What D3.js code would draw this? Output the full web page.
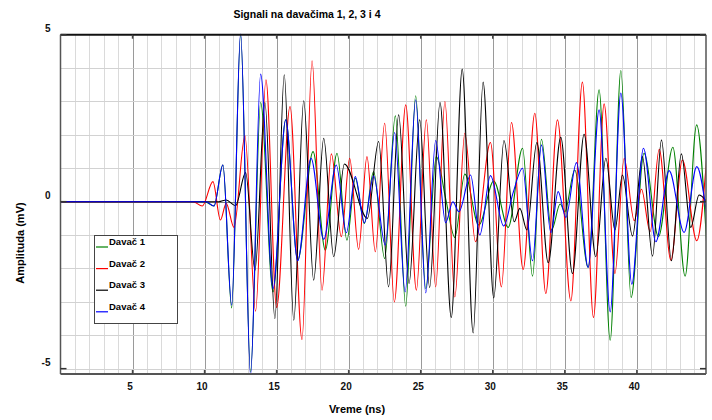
<!DOCTYPE html>
<html>
<head>
<meta charset="utf-8">
<script src="https://cdn.jsdelivr.net/npm/d3@7"></script>
<style>
  body { margin: 0; background: #fff; }
  text { font-family: "Liberation Sans Narrow", "Arial Narrow", "Liberation Sans", Arial, sans-serif; font-weight: bold; }
</style>
</head>
<body>
<svg id="chart" width="712" height="420"></svg>
<script>
// extrema: [vreme (ns), amplituda (mV)]
var davac1 = [[0,0],[10.0,0],[10.65,-0.13],[11.27,1.1],[11.88,-3.18],[12.5,5.0],[13.19,-5.1],[13.89,2.97],
  [14.75,-2.7],[15.63,2.45],[16.46,-1.75],[17.53,1.5],[18.38,-1.45],[19.19,1.45],[19.88,-1.15],[20.46,0.7],
  [21.09,-0.65],[21.73,0.9],[22.5,-1.7],[23.24,2.57],[23.96,-3.13],[24.65,3.17],[25.35,-2.6],[26.08,1.35],
  [26.75,0.05],[27.37,-1.07],[28.06,0.83],[29.03,-0.7],[30.07,0.62],[31.07,-0.77],[32.07,1.6],[32.76,-2.23],
  [33.38,1.87],[34.08,-0.85],[34.68,-0.07],[35.0,-0.3],[35.69,0.95],[36.62,-1.97],[37.38,3.35],[38.15,-4.15],
  [38.89,3.93],[39.6,-2.87],[40.5,1.45],[41.5,-1.05],[42.5,1.63],[43.35,-2.23],[44.15,2.3],[44.85,-1.3]];

var davac2 = [[0,0],[9.2,0],[9.84,-0.13],[10.58,0.6],[11.1,-0.55],[11.5,-0.05],[12.04,-0.77],[12.8,1.97],
  [13.54,-3.28],[14.26,3.65],[15.0,-3.17],[15.93,2.85],[16.76,-4.13],[17.46,4.22],[18.15,-2.65],[18.8,1.43],
  [19.49,-1.05],[20.07,1.3],[20.69,-1.43],[21.27,1.35],[21.85,-1.5],[22.5,2.35],[23.17,-3.0],[23.96,2.9],
  [24.7,-2.65],[25.39,2.45],[26.04,-2.55],[26.68,3.0],[27.37,-2.85],[28.06,2.05],[28.8,-1.2],[29.84,1.77],
  [30.6,-2.55],[31.3,2.37],[32.11,-2.03],[32.92,2.65],[33.68,-2.75],[34.49,2.45],[35.42,-2.97],[36.22,3.58],
  [36.99,-3.47],[37.73,2.93],[38.48,-2.15],[39.12,1.3],[39.82,-0.57],[40.32,0.37],[40.92,-0.9],[41.55,1.57],
  [42.36,-1.75],[43.16,1.25],[44.16,-1.17],[44.85,1.3]];

var davac3 = [[0,0],[11.0,0],[11.5,0.05],[12.15,-0.12],[12.85,0.87],[13.5,-2.05],[14.19,2.97],[14.88,-3.5],
  [15.53,3.8],[16.19,-3.55],[16.88,3.02],[17.57,-2.35],[18.27,1.9],[18.96,-1.65],[19.7,1.13],[21.3,-0.5],
  [22.08,1.8],[22.77,-2.55],[23.47,2.6],[24.19,-2.45],[24.93,2.45],[25.62,-2.57],[26.34,2.97],[27.12,-3.47],
  [27.88,3.97],[28.64,-3.93],[29.33,3.58],[30.07,-2.88],[30.78,1.83],[31.49,-0.6],[31.88,-0.2],[32.37,-0.85],
  [33.06,1.77],[33.85,-1.83],[34.72,1.93],[35.53,-2.15],[36.34,2.02],[37.15,-1.65],[37.85,1.3],[38.48,-0.85],
  [39.0,0.8],[39.7,-1.03],[40.39,1.35],[41.09,-1.63],[41.71,1.85],[42.4,-1.77],[43.09,1.43],[43.74,-0.77],
  [44.32,0.2],[44.85,0.0]];

var davac4 = [[0,0],[10.1,0],[10.65,-0.13],[11.27,1.1],[11.88,-3.1],[12.5,5.05],[13.19,-5.2],[13.89,3.82],
  [14.75,-2.6],[15.63,2.45],[16.46,-1.77],[17.39,1.3],[18.27,-1.13],[19.14,1.1],[19.84,-0.93],[20.46,0.75],
  [21.09,-0.63],[21.73,0.77],[22.54,-1.3],[23.19,2.07],[23.92,-2.7],[24.65,3.05],[25.35,-2.73],[26.04,1.83],
  [26.73,-0.63],[27.23,0.0],[27.65,-0.3],[28.46,0.8],[29.1,-1.0],[29.84,0.78],[30.76,-0.73],[31.4,0.25],
  [32.07,1.0],[32.76,-1.77],[33.38,1.7],[34.03,-0.93],[34.54,0.3],[35.07,-0.47],[35.81,1.17],[36.62,-1.97],
  [37.38,2.75],[38.15,-3.3],[38.89,3.25],[39.65,-2.47],[40.46,1.6],[41.32,-1.2],[42.24,0.93],[43.28,-0.92],
  [44.16,1.05],[44.85,-0.4]];

var seriesNames = ["Davač 1", "Davač 2", "Davač 3", "Davač 4"];
var seriesColors = ["#008000", "#ff0000", "#000000", "#0000ff"];
var xTicks = [5, 10, 15, 20, 25, 30, 35, 40];
var yTicks = [-5, 0, 5];

var svg = d3.select("#chart");

var x = d3.scaleLinear().domain([0, 44.8]).range([60.5, 706]);
var y = d3.scaleLinear().domain([-5.16, 5]).range([374, 34.7]);

var pLeft = x.range()[0], pRight = x.range()[1], pTop = y.range()[1], pBottom = y.range()[0];

// grid
var grid = svg.append("g");
grid.selectAll(".vx").data(d3.range(1, 45)).enter().append("line")
  .attr("x1", d => Math.round(x(d)) + 0.5).attr("x2", d => Math.round(x(d)) + 0.5)
  .attr("y1", pTop).attr("y2", pBottom)
  .attr("stroke", d => d % 5 === 0 ? "#9a9a9a" : "#dadada").attr("stroke-width", 1);
grid.selectAll(".hy").data(d3.range(-5, 5)).enter().append("line")
  .attr("x1", pLeft).attr("x2", pRight)
  .attr("y1", d => Math.round(y(d)) + 0.5).attr("y2", d => Math.round(y(d)) + 0.5)
  .attr("stroke", d => d === 0 ? "#7a7a7a" : "#d2d2d2").attr("stroke-width", 1);

// curves
svg.append("clipPath").attr("id", "clip").append("rect")
  .attr("x", pLeft).attr("y", pTop - 1).attr("width", pRight - pLeft).attr("height", pBottom - pTop + 2);

var line = d3.line().x(d => x(d[0])).y(d => y(d[1])).curve(d3.curveMonotoneX);

var allSeries = [davac1, davac2, davac3, davac4];
svg.append("g").attr("clip-path", "url(#clip)")
  .selectAll("path").data(allSeries).enter().append("path")
  .attr("d", line).attr("fill", "none")
  .attr("stroke", (d, i) => seriesColors[i]).attr("stroke-width", 1.1);

// frame
svg.append("line").attr("x1", pLeft).attr("x2", pRight).attr("y1", pTop).attr("y2", pTop)
  .attr("stroke", "#111").attr("stroke-width", 2);
svg.append("line").attr("x1", pLeft).attr("x2", pRight).attr("y1", pBottom).attr("y2", pBottom)
  .attr("stroke", "#555").attr("stroke-width", 2);
svg.append("line").attr("x1", pLeft).attr("x2", pLeft).attr("y1", pTop).attr("y2", pBottom)
  .attr("stroke", "#555").attr("stroke-width", 1.5);
svg.append("line").attr("x1", pRight).attr("x2", pRight).attr("y1", pTop).attr("y2", pBottom)
  .attr("stroke", "#555").attr("stroke-width", 1.5);

// ticks
var xAxis = d3.axisBottom(x).tickValues(xTicks).tickSize(0).tickPadding(9).tickFormat(d => String(d));
var gx = svg.append("g").attr("transform", "translate(-3," + pBottom + ")").call(xAxis);
gx.select(".domain").remove();
gx.selectAll("text").attr("font-size", 10).attr("fill", "#111");

svg.append("g").selectAll("line").data(xTicks).enter().append("line")
  .attr("x1", d => x(d)).attr("x2", d => x(d)).attr("y1", pBottom - 4).attr("y2", pBottom)
  .attr("stroke", "#444").attr("stroke-width", 1.5);
svg.append("g").selectAll("line").data(xTicks).enter().append("line")
  .attr("x1", d => x(d)).attr("x2", d => x(d)).attr("y1", pTop).attr("y2", pTop + 4)
  .attr("stroke", "#444").attr("stroke-width", 1.5);

var yAxis = d3.axisLeft(y).tickValues(yTicks).tickSize(0).tickPadding(10).tickFormat(d => String(d));
var gy = svg.append("g").attr("transform", "translate(" + pLeft + ",-6)").call(yAxis);
gy.select(".domain").remove();
gy.selectAll("text").attr("font-size", 10).attr("fill", "#111");

svg.append("g").selectAll("line").data(yTicks).enter().append("line")
  .attr("x1", pLeft).attr("x2", pLeft + 6).attr("y1", d => y(d)).attr("y2", d => y(d))
  .attr("stroke", "#333").attr("stroke-width", 1.5);
svg.append("g").selectAll("line").data(yTicks).enter().append("line")
  .attr("x1", pRight - 6).attr("x2", pRight).attr("y1", d => y(d)).attr("y2", d => y(d))
  .attr("stroke", "#333").attr("stroke-width", 1.5);

// titles
svg.append("text").attr("x", 307).attr("y", 18).attr("text-anchor", "middle")
  .attr("font-size", 10.5).text("Signali na davačima 1, 2, 3 i 4");
svg.append("text").attr("x", 357).attr("y", 413).attr("text-anchor", "middle")
  .attr("font-size", 11).text("Vreme (ns)");
svg.append("text").attr("transform", "translate(24,243) rotate(-90)").attr("text-anchor", "middle")
  .attr("font-size", 11).text("Amplituda (mV)");

// legend
var lg = svg.append("g");
lg.append("rect").attr("x", 94.5).attr("y", 235.5).attr("width", 83).attr("height", 88)
  .attr("fill", "#fff").attr("stroke", "#444").attr("stroke-width", 1);
var items = lg.selectAll(".item").data(seriesNames).enter().append("g")
  .attr("transform", (d, i) => "translate(0," + (247 + i * 21.6) + ")");
items.append("line").attr("x1", 96).attr("x2", 108).attr("y1", 0).attr("y2", 0)
  .attr("stroke", (d, i) => seriesColors[i]).attr("stroke-width", 1.2);
items.append("text").attr("x", 109).attr("y", -2).attr("font-size", 9.5).text(d => d);
</script>
</body>
</html>
